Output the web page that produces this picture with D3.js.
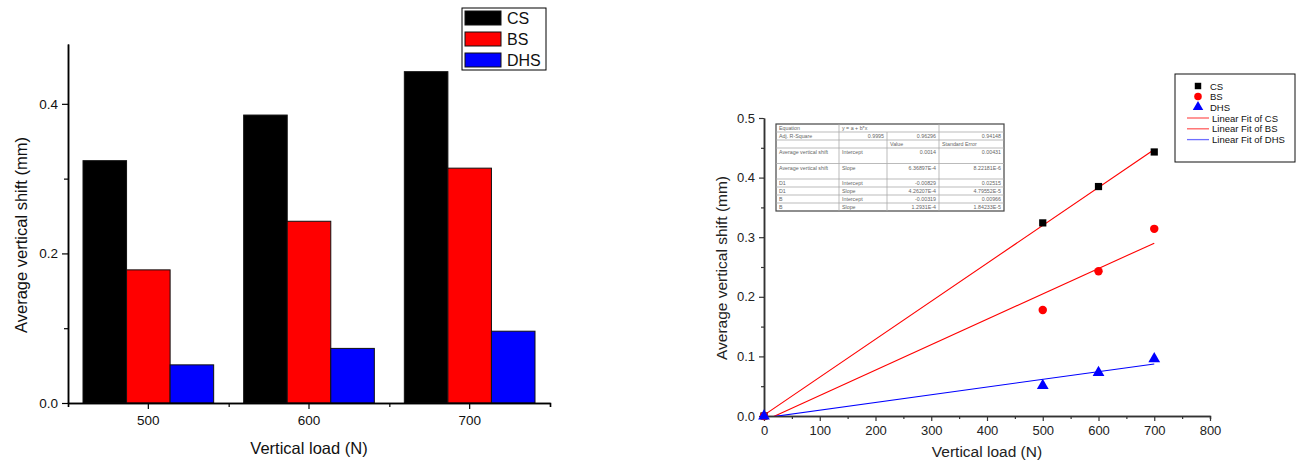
<!DOCTYPE html>
<html>
<head>
<meta charset="utf-8">
<script src="https://cdn.jsdelivr.net/npm/d3@7"></script>
<style>
  body { margin: 0; background: #fff; }
  svg { display: block; font-family: "Liberation Sans", Arial, sans-serif; }
</style>
</head>
<body>
<svg id="chart" width="1306" height="466"></svg>
<script>
// Data
var loads = [500, 600, 700];
var seriesNames = ["CS", "BS", "DHS"];
var seriesColors = ["#000000", "#ff0000", "#0000ff"];
var csShift = [0.324, 0.385, 0.443];
var bsShift = [0.178, 0.243, 0.314];
var dhsShift = [0.051, 0.073, 0.096];

// Scatter data for the right plot (includes origin)
var scatterLoads = [0, 500, 600, 700];
var csScatter = [0, 0.324, 0.385, 0.443];
var bsScatter = [0, 0.178, 0.243, 0.314];
var dhsScatter = [0, 0.051, 0.073, 0.096];

// Linear fits (intercept, slope) as shown in the fit table
var fitIntercepts = [0.0014, -0.00829, -0.00319];
var fitSlopes = [6.36897e-4, 4.26207e-4, 1.2931e-4];
var fitColors = ["#ff0000", "#ff0000", "#0000ff"];
var fitLabels = ["Linear Fit of CS", "Linear Fit of BS", "Linear Fit of DHS"];

var leftYTicks = [0, 0.2, 0.4];
var rightXTicks = [0, 100, 200, 300, 400, 500, 600, 700, 800];
var rightYTicks = [0, 0.1, 0.2, 0.3, 0.4, 0.5];

var tableRows = [
  ["Equation", "y = a + b*x", "", ""],
  ["Adj. R-Square", "0.9995", "0.96296", "0.94148"],
  ["", "", "Value", "Standard Error"],
  ["Average vertical shift", "Intercept", "0.0014", "0.00431"],
  ["Average vertical shift", "Slope", "6.36897E-4", "8.22181E-6"],
  ["D1", "Intercept", "-0.00829", "0.02515"],
  ["D1", "Slope", "4.26207E-4", "4.79552E-5"],
  ["B", "Intercept", "-0.00319", "0.00966"],
  ["B", "Slope", "1.2931E-4", "1.84233E-5"]
];

var svg = d3.select("#chart");
var allSeries = [csShift, bsShift, dhsShift];

// ---------------- Left: grouped bar chart ----------------
var L = { left: 68, right: 550, top: 44, bottom: 403 };

var x0 = d3.scaleBand().domain(loads).range([L.left, L.right]);
var x1 = d3.scaleBand().domain(seriesNames).range([15, x0.bandwidth() - 15]);
var yL = d3.scaleLinear().domain([0, 0.48]).range([L.bottom, L.top]);

var barData = [];
loads.forEach(function (load, i) {
  seriesNames.forEach(function (s, j) {
    barData.push({ load: load, series: s, value: allSeries[j][i], color: seriesColors[j] });
  });
});

svg.append("g").selectAll("rect")
  .data(barData)
  .enter().append("rect")
  .attr("x", function (d) { return x0(d.load) + x1(d.series); })
  .attr("y", function (d) { return yL(d.value); })
  .attr("width", x1.bandwidth())
  .attr("height", function (d) { return yL(0) - yL(d.value); })
  .attr("fill", function (d) { return d.color; })
  .attr("stroke", "#111")
  .attr("stroke-width", 1);

// left axes
var leftXAxis = svg.append("g")
  .attr("transform", "translate(0," + L.bottom + ")")
  .call(d3.axisBottom(x0).tickSize(6).tickSizeOuter(0).tickPadding(6));
var minorBand = d3.scaleLinear().domain([0, loads.length]).range([L.left, L.right]);
svg.append("g")
  .attr("transform", "translate(0," + L.bottom + ")")
  .call(d3.axisBottom(minorBand).tickValues([0, 1, 2, 3]).tickSize(4).tickFormat(""));

var leftYAxis = svg.append("g")
  .attr("transform", "translate(" + L.left + ",0)")
  .call(d3.axisLeft(yL).tickValues(leftYTicks).tickFormat(d3.format(".1f")).tickSize(6).tickSizeOuter(0).tickPadding(4));
svg.append("g")
  .attr("transform", "translate(" + L.left + ",0)")
  .call(d3.axisLeft(yL).tickValues([0.1, 0.3]).tickSize(4).tickSizeOuter(0).tickFormat(""));

svg.selectAll(".domain").attr("stroke", "#000").attr("stroke-width", 1.5);
svg.selectAll(".tick line").attr("stroke", "#000").attr("stroke-width", 1.2);
leftXAxis.selectAll("text").attr("font-size", "13.5px").attr("fill", "#111").attr("font-family", "Liberation Sans, Arial");
leftYAxis.selectAll("text").attr("font-size", "13.5px").attr("fill", "#111").attr("font-family", "Liberation Sans, Arial");

svg.append("text")
  .attr("x", (L.left + L.right) / 2).attr("y", 454)
  .attr("text-anchor", "middle").attr("font-size", "16.5px").attr("fill", "#111")
  .text("Vertical load (N)");
svg.append("text")
  .attr("transform", "translate(27," + 235 + ") rotate(-90)")
  .attr("text-anchor", "middle").attr("font-size", "16.5px").attr("fill", "#111")
  .text("Average vertical shift (mm)");

// left legend
var legL = svg.append("g");
legL.append("rect").attr("x", 462).attr("y", 8).attr("width", 84).attr("height", 62)
  .attr("fill", "#fff").attr("stroke", "#000").attr("stroke-width", 1);
seriesNames.forEach(function (s, i) {
  legL.append("rect").attr("x", 465).attr("y", 11 + i * 21).attr("width", 36).attr("height", 14)
    .attr("fill", seriesColors[i]).attr("stroke", "#111").attr("stroke-width", 1);
  legL.append("text").attr("x", 507).attr("y", 24 + i * 21)
    .attr("font-size", "16px").attr("fill", "#111").text(s);
});

// ---------------- Right: scatter with linear fits ----------------
var R = { left: 764, right: 1210, top: 118, bottom: 416 };
var xR = d3.scaleLinear().domain([0, 800]).range([R.left, R.right]);
var yR = d3.scaleLinear().domain([0, 0.5]).range([R.bottom, R.top]);

svg.append("clipPath").attr("id", "plotclip")
  .append("rect").attr("x", R.left).attr("y", R.top)
  .attr("width", R.right - R.left).attr("height", R.bottom - R.top);

var rightXAxis = svg.append("g")
  .attr("class", "raxis")
  .attr("transform", "translate(0," + R.bottom + ")")
  .call(d3.axisBottom(xR).tickValues(rightXTicks).tickSize(5).tickSizeOuter(0).tickPadding(5));
svg.append("g")
  .attr("class", "raxis")
  .attr("transform", "translate(0," + R.bottom + ")")
  .call(d3.axisBottom(xR).tickValues(d3.range(50, 800, 100)).tickSize(3).tickFormat(""));
var rightYAxis = svg.append("g")
  .attr("class", "raxis")
  .attr("transform", "translate(" + R.left + ",0)")
  .call(d3.axisLeft(yR).tickValues(rightYTicks).tickFormat(d3.format(".1f")).tickSize(5).tickSizeOuter(0).tickPadding(4));
svg.append("g")
  .attr("class", "raxis")
  .attr("transform", "translate(" + R.left + ",0)")
  .call(d3.axisLeft(yR).tickValues([0.05, 0.15, 0.25, 0.35, 0.45]).tickSize(3).tickSizeOuter(0).tickFormat(""));

svg.selectAll(".raxis .domain").attr("stroke", "#333").attr("stroke-width", 1.5);
svg.selectAll(".raxis .tick line").attr("stroke", "#333").attr("stroke-width", 1.2);
rightXAxis.selectAll("text").attr("font-size", "13px").attr("fill", "#222").attr("font-family", "Liberation Sans, Arial");
rightYAxis.selectAll("text").attr("font-size", "13px").attr("fill", "#222").attr("font-family", "Liberation Sans, Arial");

svg.append("text")
  .attr("x", (R.left + R.right) / 2).attr("y", 457)
  .attr("text-anchor", "middle").attr("font-size", "15.5px").attr("fill", "#222")
  .text("Vertical load (N)");
svg.append("text")
  .attr("transform", "translate(727," + 268 + ") rotate(-90)")
  .attr("text-anchor", "middle").attr("font-size", "15.5px").attr("fill", "#222")
  .text("Average vertical shift (mm)");

// fit lines
var fitLine = d3.line().x(function (d) { return xR(d[0]); }).y(function (d) { return yR(d[1]); });
var fits = fitIntercepts.map(function (a, i) {
  return [[0, a], [700, a + fitSlopes[i] * 700]];
});
svg.append("g").attr("clip-path", "url(#plotclip)")
  .selectAll("path").data(fits).enter().append("path")
  .attr("d", fitLine)
  .attr("fill", "none")
  .attr("stroke", function (d, i) { return fitColors[i]; })
  .attr("stroke-width", 1.1);

// markers
var scatterSets = [csScatter, bsScatter, dhsScatter];
var symbols = [d3.symbolSquare, d3.symbolCircle, d3.symbolTriangle];
var symbolSizes = [52, 56, 60];
scatterSets.forEach(function (vals, j) {
  svg.append("g").selectAll("path")
    .data(vals.map(function (v, i) { return [scatterLoads[i], v]; }))
    .enter().append("path")
    .attr("transform", function (d) { return "translate(" + xR(d[0]) + "," + yR(d[1]) + ")"; })
    .attr("d", d3.symbol().type(symbols[j]).size(symbolSizes[j]))
    .attr("fill", seriesColors[j]);
});

// fit table
var colX = [776, 839, 887, 939, 1004];
var rowH = [8, 8, 8, 15.5, 15.5, 8, 8, 8, 8];
var tableTop = 124;
var tbl = svg.append("g").attr("font-size", "5.3px").attr("fill", "#666");
tbl.append("rect").attr("x", colX[0]).attr("y", tableTop)
  .attr("width", colX[4] - colX[0]).attr("height", d3.sum(rowH))
  .attr("fill", "#fff").attr("stroke", "#444").attr("stroke-width", 1.2);
var yy = tableTop;
tableRows.forEach(function (row, r) {
  if (r > 0) {
    tbl.append("line").attr("x1", colX[0]).attr("x2", colX[4]).attr("y1", yy).attr("y2", yy)
      .attr("stroke", "#aaa").attr("stroke-width", 0.8);
  }
  row.forEach(function (cell, c) {
    if (!cell) return;
    var numeric = /^-?[0-9]/.test(cell);
    tbl.append("text")
      .attr("x", numeric ? colX[c + 1] - 3 : colX[c] + 3)
      .attr("y", yy + 6)
      .attr("text-anchor", numeric ? "end" : "start")
      .text(cell);
  });
  yy += rowH[r];
});
colX.slice(1, 4).forEach(function (cx, c) {
  // the Equation row spans columns 2-3
  tbl.append("line").attr("x1", cx).attr("x2", cx)
    .attr("y1", c === 1 ? tableTop + rowH[0] : tableTop).attr("y2", tableTop + d3.sum(rowH))
    .attr("stroke", "#aaa").attr("stroke-width", 0.8);
});

// right legend
var legR = svg.append("g").attr("font-size", "9.5px").attr("fill", "#111");
legR.append("rect").attr("x", 1175).attr("y", 74).attr("width", 120).attr("height", 88)
  .attr("fill", "#fff").attr("stroke", "#111").attr("stroke-width", 1);
seriesNames.forEach(function (s, j) {
  legR.append("path")
    .attr("transform", "translate(1198," + (86 + j * 10.5) + ")")
    .attr("d", d3.symbol().type(symbols[j]).size(symbolSizes[j] * 0.8))
    .attr("fill", seriesColors[j]);
  legR.append("text").attr("x", 1210).attr("y", 89.5 + j * 10.5).text(s);
});
fitLabels.forEach(function (lbl, j) {
  var ly = 118 + j * 10.8;
  legR.append("line").attr("x1", 1187).attr("x2", 1209).attr("y1", ly).attr("y2", ly)
    .attr("stroke", j === 2 ? "#6f6fff" : "#ff5f5f").attr("stroke-width", 1.3);
  legR.append("text").attr("x", 1212).attr("y", ly + 3.5).text(lbl);
});
</script>
</body>
</html>
